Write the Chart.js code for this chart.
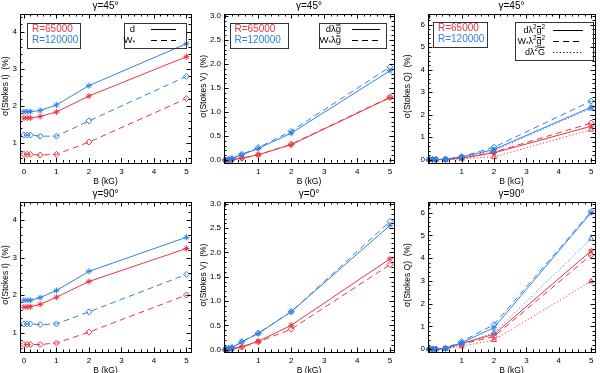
<!DOCTYPE html>
<html>
<head>
<meta charset="utf-8">
<script src="https://cdn.jsdelivr.net/npm/chart.js@4"></script>
<style>
  body { margin: 0; background: #fff; }
  #wrap { position: relative; width: 600px; height: 373px; }
  #wrap canvas { position: absolute; }
</style>
</head>
<body>
<div id="wrap"></div>
<script>
// field strength sampled (kG)
const bField = [0, 0.1, 0.2, 0.5, 1, 2, 5];

// sigma(Stokes I), gamma = 45
const i45D65  = [1.68, 1.68, 1.68, 1.72, 1.84, 2.27, 3.33];
const i45D120 = [1.85, 1.85, 1.85, 1.88, 2.03, 2.55, 3.68];
const i45W65  = [0.70, 0.70, 0.70, 0.68, 0.70, 1.03, 2.20];
const i45W120 = [1.22, 1.22, 1.22, 1.19, 1.19, 1.60, 2.80];

// sigma(Stokes V), gamma = 45
const v45D65  = [0.00, 0.00, 0.01, 0.04, 0.11, 0.32, 1.30];
const v45D120 = [0.00, 0.01, 0.03, 0.11, 0.24, 0.56, 1.86];
const v45W65  = [0.00, 0.00, 0.01, 0.04, 0.11, 0.33, 1.31];
const v45W120 = [0.00, 0.01, 0.03, 0.12, 0.26, 0.60, 1.94];

// sigma(Stokes Q), gamma = 45
const q45D65  = [0.00, 0.00, 0.00, 0.00, 0.06, 0.30, 1.48];
const q45D120 = [0.00, 0.00, 0.00, 0.01, 0.12, 0.45, 2.33];
const q45W65  = [0.00, 0.00, 0.00, 0.00, 0.07, 0.33, 1.62];
const q45W120 = [0.00, 0.00, 0.00, 0.02, 0.13, 0.55, 2.60];
const q45G65  = [0.00, 0.00, 0.00, 0.00, 0.04, 0.12, 1.33];
const q45G120 = [0.00, 0.00, 0.00, 0.01, 0.10, 0.40, 2.27];

// sigma(Stokes I), gamma = 90
const i90D65  = [1.68, 1.68, 1.69, 1.75, 1.94, 2.36, 3.24];
const i90D120 = [1.86, 1.86, 1.86, 1.93, 2.12, 2.63, 3.54];
const i90W65  = [0.68, 0.68, 0.68, 0.68, 0.72, 1.01, 2.00];
const i90W120 = [1.23, 1.23, 1.23, 1.21, 1.23, 1.55, 2.55];

// sigma(Stokes V), gamma = 0
const v0D65  = [0.00, 0.01, 0.02, 0.06, 0.17, 0.50, 1.87];
const v0D120 = [0.00, 0.02, 0.04, 0.16, 0.33, 0.78, 2.56];
const v0W65  = [0.00, 0.01, 0.02, 0.05, 0.16, 0.42, 1.75];
const v0W120 = [0.00, 0.02, 0.04, 0.16, 0.34, 0.78, 2.64];

// sigma(Stokes Q), gamma = 90
const q90D65  = [0.00, 0.00, 0.00, 0.02, 0.25, 0.65, 4.32];
const q90D120 = [0.00, 0.00, 0.00, 0.03, 0.28, 0.94, 6.00];
const q90W65  = [0.00, 0.00, 0.00, 0.02, 0.22, 0.55, 4.14];
const q90W120 = [0.00, 0.00, 0.00, 0.04, 0.33, 1.08, 6.05];
const q90G65  = [0.00, 0.00, 0.00, 0.01, 0.12, 0.40, 2.98];
const q90G120 = [0.00, 0.00, 0.00, 0.02, 0.22, 0.72, 4.85];

const xTicksI  = [0, 1, 2, 3, 4, 5];
const xTicksVQ = [1, 2, 3, 4, 5];
const yTicksI = [1, 2, 3, 4];
const yTicksV = [0, 0.5, 1, 1.5, 2, 2.5, 3];
const yTicksQ = [0, 1, 2, 3, 4, 5, 6];

const resLabels = ['R=65000', 'R=120000'];
// ^ superscript, _ subscript, ~ bar over next char
const keysI = ['d', 'W_*'];
const keysV = ['dλ~g', 'W_*λ~g'];
const keysQ = ['dλ^2~g^2', 'W_*λ^2~g^2', 'dλ^2~G'];

const RED = 'rgb(236,52,62)';
const BLUE = 'rgb(46,128,228)';
const FONT = 'Liberation Sans, Arial, sans-serif';

const colL = [20, 24, 28], colR = [191, 194, 197];
const rowT = [14, 16], rowB = [162.5, 166];

const DASH = [6, 4], DOT = [1.2, 2.2];

function mkSet(vals, color, kind) {
  return {
    data: bField.map((b, i) => ({ x: b, y: vals[i] })),
    borderColor: color,
    borderWidth: 1,
    borderDash: kind === 'w' ? DASH : kind === 'G' ? DOT : [],
    pointStyle: kind === 'd' ? 'star' : kind === 'w' ? 'rectRot' : 'triangle',
    pointRadius: 3,
    pointBorderColor: color,
    pointBackgroundColor: 'rgba(0,0,0,0)',
    pointBorderWidth: 1,
    tension: 0,
    fill: false,
    clip: false
  };
}

const panels = [
  { col: 0, row: 0, title: 'γ=45°', ytitle: 'σ(Stokes I)  (%)', ymin: 0.48, ymax: 4.48, yticks: yTicksI, ydec: 0, ymajor: 1, yminor: 0.2,
    xmin: -0.12, xmax: 5.14, xticks: xTicksI, ytOff: 14.5,
    sets: [mkSet(i45D120, BLUE, 'd'), mkSet(i45W120, BLUE, 'w'), mkSet(i45D65, RED, 'd'), mkSet(i45W65, RED, 'w')],
    legend: { left: { x: 7, y: 8.5, w: 53, h: 24.5 }, right: { x: 104, y: 8.5, w: 62, h: 24.5, tEnd: 115, l0: 131, l1: 156, rows: [6.5, 17.5] }, keys: keysI, ks: 9.5 } },
  { col: 1, row: 0, title: 'γ=45°', ytitle: 'σ(Stokes V)  (%)', ymin: -0.05, ymax: 3.04, yticks: yTicksV, ydec: 1, ymajor: 0.5, yminor: 0.1,
    xmin: -0.04, xmax: 5.12, xticks: xTicksVQ, ytOff: 20,
    sets: [mkSet(v45D120, BLUE, 'd'), mkSet(v45W120, BLUE, 'w'), mkSet(v45D65, RED, 'd'), mkSet(v45W65, RED, 'w')],
    legend: { left: { x: 5.5, y: 8.5, w: 58, h: 24.5 }, right: { x: 94.5, y: 8.5, w: 66.5, h: 24.5, tEnd: 117, l0: 128, l1: 156, rows: [6.5, 17.5] }, keys: keysV, ks: 9.5 } },
  { col: 2, row: 0, title: 'γ=45°', ytitle: 'σ(Stokes Q)  (%)', ymin: -0.13, ymax: 6.47, yticks: yTicksQ, ydec: 0, ymajor: 1, yminor: 0.2,
    xmin: -0.04, xmax: 5.12, xticks: xTicksVQ, ytOff: 20,
    sets: [mkSet(q45D120, BLUE, 'd'), mkSet(q45W120, BLUE, 'w'), mkSet(q45G120, BLUE, 'G'), mkSet(q45D65, RED, 'd'), mkSet(q45W65, RED, 'w'), mkSet(q45G65, RED, 'G')],
    legend: { left: { x: 5, y: 7.7, w: 54, h: 24.5 }, right: { x: 87, y: 7.7, w: 77.5, h: 38.3, tEnd: 117, l0: 125, l1: 155, rows: [8.5, 19.5, 30.5] }, keys: keysQ, ks: 9 } },
  { col: 0, row: 1, title: 'γ=90°', ytitle: 'σ(Stokes I)  (%)', ymin: 0.48, ymax: 4.48, yticks: yTicksI, ydec: 0, ymajor: 1, yminor: 0.2,
    xmin: -0.12, xmax: 5.14, xticks: xTicksI, ytOff: 14.5,
    sets: [mkSet(i90D120, BLUE, 'd'), mkSet(i90W120, BLUE, 'w'), mkSet(i90D65, RED, 'd'), mkSet(i90W65, RED, 'w')] },
  { col: 1, row: 1, title: 'γ=0°', ytitle: 'σ(Stokes V)  (%)', ymin: -0.05, ymax: 3.04, yticks: yTicksV, ydec: 1, ymajor: 0.5, yminor: 0.1,
    xmin: -0.04, xmax: 5.12, xticks: xTicksVQ, ytOff: 20,
    sets: [mkSet(v0D120, BLUE, 'd'), mkSet(v0W120, BLUE, 'w'), mkSet(v0D65, RED, 'd'), mkSet(v0W65, RED, 'w')] },
  { col: 2, row: 1, title: 'γ=90°', ytitle: 'σ(Stokes Q)  (%)', ymin: -0.13, ymax: 6.47, yticks: yTicksQ, ydec: 0, ymajor: 1, yminor: 0.2,
    xmin: -0.04, xmax: 5.12, xticks: xTicksVQ, ytOff: 20,
    sets: [mkSet(q90D120, BLUE, 'd'), mkSet(q90W120, BLUE, 'w'), mkSet(q90G120, BLUE, 'G'), mkSet(q90D65, RED, 'd'), mkSet(q90W65, RED, 'w'), mkSet(q90G65, RED, 'G')] }
];

// parse the little markup used for the key labels
function parseKey(s) {
  const segs = [];
  let mode = null, bar = false;
  for (const ch of s) {
    if (ch === '^') { mode = 'sup'; continue; }
    if (ch === '_') { mode = 'sub'; continue; }
    if (ch === '~') { bar = true; continue; }
    segs.push({ t: ch, mode: mode, bar: bar });
    mode = null; bar = false;
  }
  return segs;
}

function drawKey(ctx, s, xRight, yMid, size) {
  const segs = parseKey(s);
  let w = 0;
  segs.forEach(g => {
    g.fs = g.mode ? size * 0.7 : size;
    ctx.font = g.fs + 'px ' + FONT;
    g.w = ctx.measureText(g.t).width;
    w += g.w;
  });
  let x = xRight - w;
  segs.forEach(g => {
    ctx.font = g.fs + 'px ' + FONT;
    const dy = g.mode === 'sup' ? -size * 0.38 : g.mode === 'sub' ? size * 0.3 : 0;
    ctx.fillText(g.t, x, yMid + dy);
    if (g.bar) {
      const by = yMid - (g.t === 'G' ? size * 0.55 : size * 0.42);
      ctx.beginPath();
      ctx.moveTo(x + 0.5, by);
      ctx.lineTo(x + g.w - 0.5, by);
      ctx.stroke();
    }
    x += g.w;
  });
}

function steps(min, max, step) {
  const out = [];
  const k0 = Math.ceil(min / step - 1e-6), k1 = Math.floor(max / step + 1e-6);
  for (let k = k0; k <= k1; k++) out.push(k * step);
  return out;
}

panels.forEach(p => {
  const cv = document.createElement('canvas');
  cv.width = 200; cv.height = 187;
  cv.style.left = (p.col * 200) + 'px';
  cv.style.top = (p.row * 186) + 'px';
  document.getElementById('wrap').appendChild(cv);

  const L = colL[p.col], R = colR[p.col], T = rowT[p.row], B = rowB[p.row];

  const deco = {
    id: 'deco',
    afterDraw(chart) {
      const { ctx, chartArea: ca, scales: { x, y } } = chart;
      ctx.save();
      ctx.strokeStyle = '#000';
      ctx.lineWidth = 1;
      ctx.setLineDash([]);
      ctx.strokeRect(Math.round(ca.left) + 0.5, Math.round(ca.top) + 0.5, Math.round(ca.right - ca.left), Math.round(ca.bottom - ca.top));

      // inward tick marks on all four sides
      ctx.beginPath();
      steps(p.xmin, p.xmax, 0.2).forEach(v => {
        const px = Math.round(x.getPixelForValue(v)) + 0.5;
        const len = Math.abs(v - Math.round(v)) < 1e-6 ? 4.5 : 2.5;
        ctx.moveTo(px, ca.bottom); ctx.lineTo(px, ca.bottom - len);
        ctx.moveTo(px, ca.top); ctx.lineTo(px, ca.top + len);
      });
      steps(p.ymin, p.ymax, p.yminor).forEach(v => {
        const py = Math.round(y.getPixelForValue(v)) + 0.5;
        const r = v / p.ymajor;
        const len = Math.abs(r - Math.round(r)) < 1e-6 ? 4.5 : 2.5;
        ctx.moveTo(ca.left, py); ctx.lineTo(ca.left + len, py);
        ctx.moveTo(ca.right, py); ctx.lineTo(ca.right - len, py);
      });
      ctx.stroke();

      // titles
      ctx.fillStyle = '#000';
      ctx.textAlign = 'center';
      ctx.textBaseline = 'middle';
      ctx.font = '10px ' + FONT;
      ctx.fillText(p.title, (ca.left + ca.right) / 2, ca.top - 7.5);
      ctx.font = '8.5px ' + FONT;
      ctx.fillText('B (kG)', (ca.left + ca.right) / 2, ca.bottom + 19);
      ctx.save();
      ctx.translate(ca.left - p.ytOff, (ca.top + ca.bottom) / 2 - 2);
      ctx.rotate(-Math.PI / 2);
      ctx.fillText(p.ytitle, 0, 0);
      ctx.restore();

      // keys
      if (p.legend) {
        const lg = p.legend;
        const lb = lg.left, rb = lg.right;
        ctx.strokeStyle = '#333';
        ctx.strokeRect(Math.round(ca.left + lb.x) + 0.5, Math.round(ca.top + lb.y) + 0.5, Math.round(lb.w), Math.round(lb.h));
        ctx.strokeRect(Math.round(ca.left + rb.x) + 0.5, Math.round(ca.top + rb.y) + 0.5, Math.round(rb.w), Math.round(rb.h));
        ctx.textAlign = 'left';
        ctx.font = '10px ' + FONT;
        ctx.fillStyle = RED;
        ctx.fillText(resLabels[0], ca.left + lb.x + 5, ca.top + lb.y + 6.5);
        ctx.fillStyle = BLUE;
        ctx.fillText(resLabels[1], ca.left + lb.x + 5, ca.top + lb.y + 17.5);

        const dashes = [[], DASH, DOT];
        lg.keys.forEach((k, i) => {
          const yy = ca.top + rb.y + rb.rows[i];
          ctx.fillStyle = '#000';
          ctx.strokeStyle = '#000';
          ctx.setLineDash([]);
          ctx.textAlign = 'left';
          drawKey(ctx, k, ca.left + rb.tEnd, yy, lg.ks);
          ctx.setLineDash(dashes[i]);
          ctx.beginPath();
          ctx.moveTo(ca.left + rb.l0, Math.round(yy) + 0.5);
          ctx.lineTo(ca.left + rb.l1, Math.round(yy) + 0.5);
          ctx.stroke();
        });
      }
      ctx.restore();
    }
  };

  new Chart(cv, {
    type: 'line',
    data: { datasets: p.sets },
    options: {
      responsive: false,
      animation: false,
      devicePixelRatio: 1,
      layout: { padding: { left: 0, top: T, right: 200 - R, bottom: 0 } },
      plugins: { legend: { display: false }, tooltip: { enabled: false } },
      scales: {
        x: {
          type: 'linear', min: p.xmin, max: p.xmax,
          grid: { display: false, drawTicks: false, tickLength: 0 }, border: { display: false },
          afterBuildTicks: s => { s.ticks = p.xticks.map(v => ({ value: v })); },
          afterFit: s => { s.height = 187 - B; },
          ticks: { color: '#000', font: { family: FONT, size: 8 }, padding: 4, maxRotation: 0, autoSkip: false, callback: v => String(v) }
        },
        y: {
          type: 'linear', min: p.ymin, max: p.ymax,
          grid: { display: false, drawTicks: false, tickLength: 0 }, border: { display: false },
          afterBuildTicks: s => { s.ticks = p.yticks.map(v => ({ value: v })); },
          afterFit: s => { s.width = L; },
          ticks: { color: '#000', font: { family: FONT, size: 8 }, padding: 3, autoSkip: false, callback: v => p.ydec ? v.toFixed(p.ydec) : String(v) }
        }
      }
    },
    plugins: [deco]
  });
});
</script>
</body>
</html>
